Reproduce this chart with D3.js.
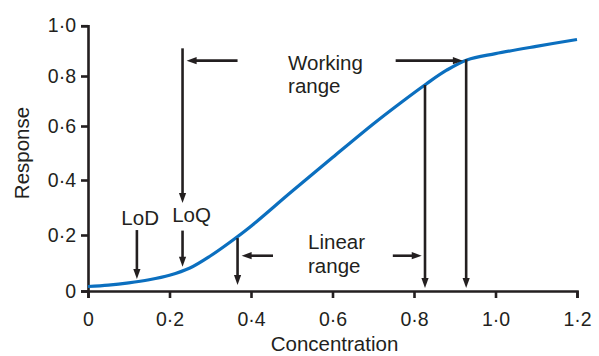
<!DOCTYPE html>
<html>
<head>
<meta charset="utf-8">
<script src="https://cdn.jsdelivr.net/npm/d3@7"></script>
<style>
  body { margin: 0; background: #fff; }
  text { font-family: "Liberation Sans", Arial, sans-serif; fill: #231f20; }
</style>
</head>
<body>
<svg id="chart" width="599" height="356"></svg>
<script>
// calibration curve
var concentration = [0, 0.05, 0.1, 0.15, 0.2, 0.25, 0.3, 0.35, 0.4, 0.5, 0.6, 0.7, 0.77, 0.83, 0.88, 0.93, 1.0, 1.1, 1.2];
var response      = [0.016, 0.021, 0.029, 0.04, 0.056, 0.082, 0.125, 0.176, 0.232, 0.358, 0.483, 0.608, 0.696, 0.768, 0.823, 0.864, 0.889, 0.918, 0.945];

var xTicks = [0, 0.2, 0.4, 0.6, 0.8, 1.0, 1.2];
var xTickLabels = ["0", "0·2", "0·4", "0·6", "0·8", "1·0", "1·2"];
var yTicks = [0, 0.2, 0.4, 0.6, 0.8, 1.0];
var yTickLabels = ["0", "0·2", "0·4", "0·6", "0·8", "1·0"];

// arrows in data units: from (x1,y1) to tip (x2,y2)
var arrowFrom = [[0.12, 0.218], [0.232, 0.216], [0.232, 0.91], [0.367, 0.861], [0.755, 0.861],
                 [0.367, 0.189], [0.454, 0.126], [0.748, 0.126], [0.827, 0.764], [0.928, 0.866]];
var arrowTo   = [[0.12, 0.043], [0.232, 0.087], [0.232, 0.316], [0.242, 0.861], [0.920, 0.861],
                 [0.367, 0.021], [0.377, 0.126], [0.819, 0.126], [0.827, 0.011], [0.928, 0.011]];

var labelLines = [["LoD"], ["LoQ"], ["Working", "range"], ["Linear", "range"]];
var labelAt = [[0.128, 0.236], [0.254, 0.247], [0.491, 0.824], [0.54, 0.149]];
var labelAnchor = ["middle", "middle", "start", "start"];

var ink = "#231f20";
var svg = d3.select("#chart");

var x = d3.scaleLinear().domain([0, 1.2]).range([88, 577]);
var y = d3.scaleLinear().domain(yTicks).range([291, 235, 180, 126, 76, 25.7]);

// axes
var xAxis = d3.axisBottom(x).tickValues(xTicks)
  .tickFormat(function(d, i) { return xTickLabels[i]; })
  .tickSize(7).tickPadding(14);
var yAxis = d3.axisLeft(y).tickValues(yTicks)
  .tickFormat(function(d, i) { return yTickLabels[i]; })
  .tickSize(7).tickPadding(5);

var gx = svg.append("g").attr("transform", "translate(0,291)").call(xAxis);
var gy = svg.append("g").attr("transform", "translate(88,0)").call(yAxis);

[gx, gy].forEach(function(g) {
  g.selectAll("path, line").attr("stroke", ink).attr("stroke-width", 2.6);
  g.selectAll("text").attr("font-size", 19.5).attr("fill", ink)
    .style("font-family", "'Liberation Sans', Arial, sans-serif");
});

svg.append("text")
  .attr("x", x(0.6) + 2).attr("y", 351)
  .attr("text-anchor", "middle").attr("font-size", 20.5)
  .text("Concentration");

svg.append("text")
  .attr("transform", "translate(29," + 153 + ") rotate(-90)")
  .attr("text-anchor", "middle").attr("font-size", 20.5)
  .text("Response");

// curve
var pts = concentration.map(function(c, i) { return [c, response[i]]; });
var line = d3.line()
  .x(function(d) { return x(d[0]); })
  .y(function(d) { return y(d[1]); })
  .curve(d3.curveCatmullRom.alpha(0.5));

svg.append("path")
  .datum(pts)
  .attr("d", line)
  .attr("fill", "none")
  .attr("stroke", "#0b6fbf")
  .attr("stroke-width", 3.2);

// arrows
var headLen = 10, headHalf = 3.6;
arrowFrom.forEach(function(f, i) {
  var t = arrowTo[i];
  var x1 = x(f[0]), y1 = y(f[1]), x2 = x(t[0]), y2 = y(t[1]);
  var dx = x2 - x1, dy = y2 - y1, len = Math.sqrt(dx * dx + dy * dy);
  var ux = dx / len, uy = dy / len;
  var bx = x2 - ux * headLen, by = y2 - uy * headLen;
  svg.append("line")
    .attr("x1", x1).attr("y1", y1).attr("x2", bx + ux).attr("y2", by + uy)
    .attr("stroke", ink).attr("stroke-width", 2.6);
  svg.append("path")
    .attr("d", "M" + x2 + "," + y2 +
      "L" + (bx - uy * headHalf) + "," + (by + ux * headHalf) +
      "L" + (bx + uy * headHalf) + "," + (by - ux * headHalf) + "Z")
    .attr("fill", ink);
});

// labels
labelLines.forEach(function(lines, i) {
  var t = svg.append("text")
    .attr("x", x(labelAt[i][0])).attr("y", y(labelAt[i][1]))
    .attr("text-anchor", labelAnchor[i])
    .attr("font-size", 20.5);
  lines.forEach(function(s, j) {
    t.append("tspan")
      .attr("x", x(labelAt[i][0]))
      .attr("dy", j === 0 ? 0 : 23.5)
      .text(s);
  });
});
</script>
</body>
</html>
